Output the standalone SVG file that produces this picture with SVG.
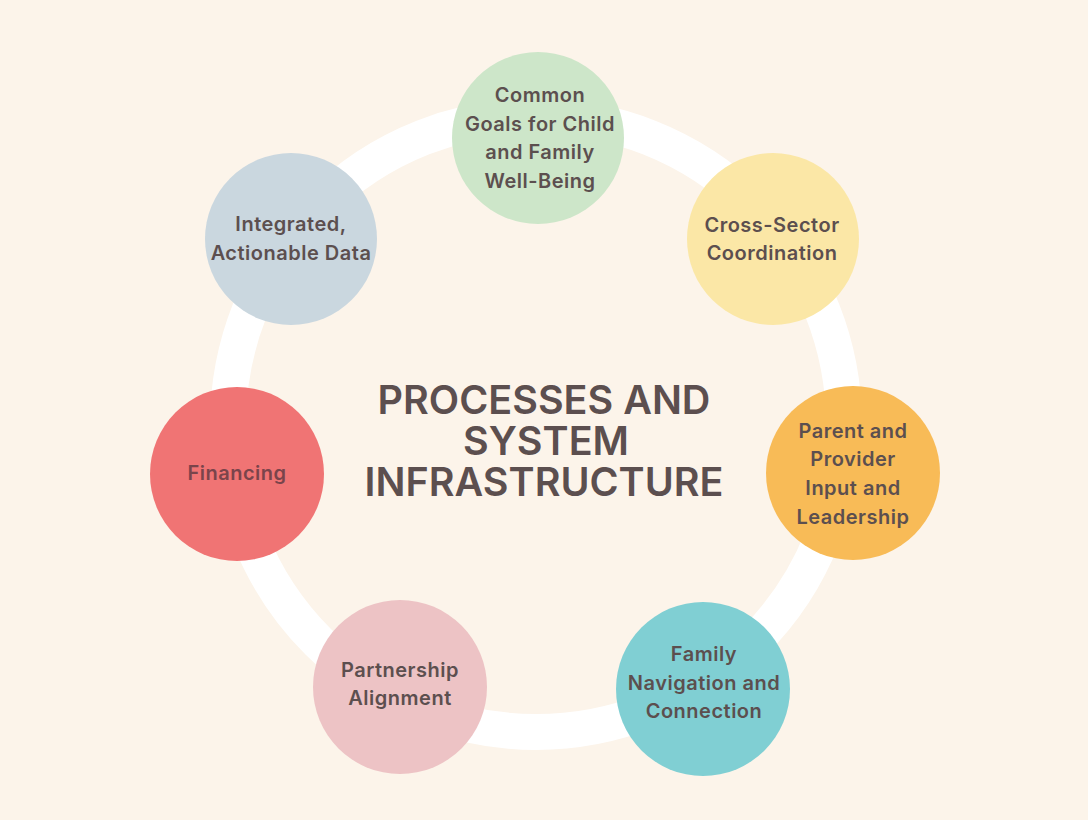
<svg xmlns="http://www.w3.org/2000/svg" width="1088" height="820" viewBox="0 0 1088 820">
<style>
.bg{fill:#fcf4ea}
.ring{fill:none;stroke:#ffffff;stroke-width:36}
.lbl{font-family:Inter,"Open Sans","Liberation Sans",sans-serif;font-weight:600;font-size:20px;letter-spacing:0.5px;fill:#5c4f4f;text-anchor:middle}
.title{font-family:Inter,"Liberation Sans",sans-serif;font-weight:600;font-size:39.5px;fill:#5c4f4f;text-anchor:middle}
</style>
<rect class="bg" x="0" y="0" width="1088" height="820"/>
<g id="connectors">
<circle class="ring" cx="536" cy="424" r="308"/>
</g>
<g id="title">
<text class="title"><tspan x="544" y="414">PROCESSES AND</tspan><tspan x="546" y="455">SYSTEM</tspan><tspan x="544" y="496">INFRASTRUCTURE</tspan></text>
</g>
<g id="node-common-goals">
<circle cx="538" cy="138" r="86" fill="#cde6c9"/>
<text class="lbl" x="540" y="102">Common</text>
<text class="lbl" x="540" y="131">Goals for Child</text>
<text class="lbl" x="540" y="159">and Family</text>
<text class="lbl" x="540" y="188">Well-Being</text>
</g>
<g id="node-cross-sector">
<circle cx="773" cy="239" r="86" fill="#fbe7a6"/>
<text class="lbl" x="772" y="232">Cross-Sector</text>
<text class="lbl" x="772" y="260">Coordination</text>
</g>
<g id="node-parent-provider">
<circle cx="853" cy="473" r="87" fill="#f8bb57"/>
<text class="lbl" x="853" y="438">Parent and</text>
<text class="lbl" x="853" y="466">Provider</text>
<text class="lbl" x="853" y="495">Input and</text>
<text class="lbl" x="853" y="524">Leadership</text>
</g>
<g id="node-family-navigation">
<circle cx="703" cy="689" r="87" fill="#80cfd3"/>
<text class="lbl" x="704" y="661">Family</text>
<text class="lbl" x="704" y="690">Navigation and</text>
<text class="lbl" x="704" y="718">Connection</text>
</g>
<g id="node-partnership">
<circle cx="400" cy="687" r="87" fill="#edc3c5"/>
<text class="lbl" x="400" y="677">Partnership</text>
<text class="lbl" x="400" y="705">Alignment</text>
</g>
<g id="node-financing">
<circle cx="237" cy="474" r="87" fill="#f07474"/>
<text class="lbl" x="237" y="480" style="fill:#7a444b">Financing</text>
</g>
<g id="node-integrated-data">
<circle cx="291" cy="239" r="86" fill="#cad7df"/>
<text class="lbl" x="291" y="231">Integrated,</text>
<text class="lbl" x="291" y="260">Actionable Data</text>
</g>
</svg>
